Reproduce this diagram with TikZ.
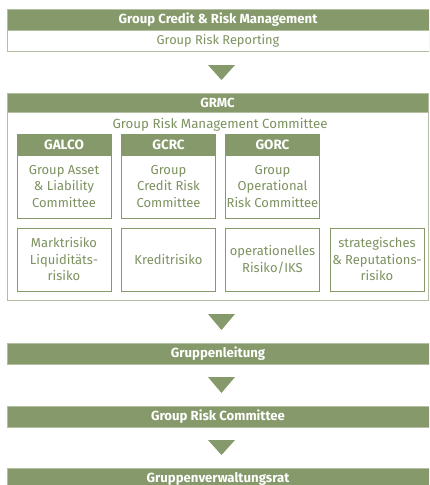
\documentclass[tikz,border=0pt]{standalone}
\usepackage{fontspec}
\setmainfont{Fira Sans}
\definecolor{grn}{HTML}{86996A}
\definecolor{grntxt}{HTML}{7D9260}
\definecolor{grnlight}{HTML}{B2BFA0}
\begin{document}
\begin{tikzpicture}[x=1pt,y=1pt,
  bar/.style={fill=grn, draw=grnlight, line width=0.8pt, inner sep=0pt, text=white,
     font=\fontsize{13.2}{15}\selectfont\bfseries, anchor=center},
  wbox/.style={fill=white, draw=grnlight, line width=1pt, inner sep=0pt, text=grntxt,
     font=\fontsize{12.8}{15}\selectfont, anchor=center},
  hdr/.style={fill=grn, draw=grn, line width=0.8pt, inner sep=0pt, text=white,
     font=\fontsize{13.5}{15}\selectfont\bfseries, minimum width=94pt, minimum height=21pt},
  cbox/.style={fill=white, draw=grn, line width=0.9pt, inner sep=0pt, text=grntxt, align=center,
     font=\fontsize{13}{16.5}\selectfont, minimum width=94pt},
  tri/.style={fill=grn, draw=none}
]
\useasboundingbox (0,0) rectangle (429,-485);
\clip (0,0) rectangle (429,-485);
% top
\node[bar, minimum width=422pt, minimum height=21pt] (b1) at (218,-19.5) {Group Credit \& Risk Management};
\node[wbox, minimum width=422pt, minimum height=21pt] (r1) at (218,-40.5) {Group Risk Reporting};
% GRMC
\node[draw=grnlight, line width=1pt, minimum width=421pt, minimum height=207pt, inner sep=0pt] (outer) at (217.5,-196.5) {};
\node[bar, minimum width=421pt, minimum height=19pt] (grmc) at (217.5,-102.5) {GRMC};
\node[text=grntxt, font=\fontsize{13.3}{15}\selectfont, anchor=center] (grmct) at (220,-125) {Group Risk Management Committee};
% committees
\node[hdr] (galco) at (64,-144.5) {GALCO};
\node[hdr] (gcrc) at (168.5,-144.5) {GCRC};
\node[hdr] (gorc) at (272.5,-144.5) {GORC};
\node[cbox, minimum height=63pt] (galcob) at (64,-186.5) {Group Asset\\\& Liability\\Committee};
\node[cbox, minimum height=63pt] (gcrcb) at (168.5,-186.5) {Group\\Credit Risk\\Committee};
\node[cbox, minimum height=63pt] (gorcb) at (272.5,-186.5) {Group\\Operational\\Risk Committee};
% risks
\node[cbox, minimum height=63pt] (r1b) at (64,-259.5) {Marktrisiko\\Liquiditäts-\\risiko};
\node[cbox, minimum height=63pt] (r2b) at (168.5,-259.5) {Kreditrisiko};
\node[cbox, minimum height=63pt] (r3b) at (272.5,-259.5) {operationelles\\Risiko/IKS};
\node[cbox, minimum height=63pt] (r4b) at (377,-259.5) {strategisches\\\& Reputations-\\risiko};
% lower bars
\node[bar, minimum width=422pt, minimum height=21pt] (gl) at (218,-353.5) {Gruppenleitung};
\node[bar, minimum width=422pt, minimum height=21pt] (grc) at (218,-416.5) {Group Risk Committee};
\node[bar, minimum width=422pt, minimum height=21pt] (gvr) at (218,-478.5) {Gruppenverwaltungsrat};
% triangles
\fill[tri] (208,-65) -- (235,-65) -- (221.5,-80) -- cycle;
\fill[tri] (208,-314) -- (235,-314) -- (221.5,-330) -- cycle;
\fill[tri] (208,-377) -- (235,-377) -- (221.5,-393) -- cycle;
\fill[tri] (208,-440) -- (235,-440) -- (221.5,-455) -- cycle;
\end{tikzpicture}
\end{document}
